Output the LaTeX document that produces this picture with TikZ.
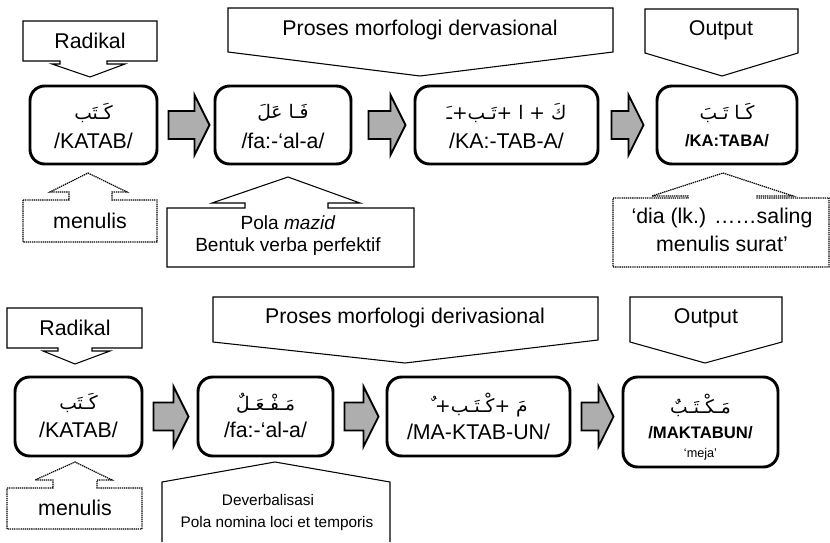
\documentclass[tikz,border=0pt]{standalone}
\usepackage{fontspec}
\setmainfont{Liberation Sans}
\newfontfamily\arabicfont[Script=Arabic]{DejaVu Sans}
\TeXXeTstate=1
\usetikzlibrary{calc}
\definecolor{arrowgray}{HTML}{AEAEAE}
\newcommand\blkarrow[4]{%
 \draw[blk] let \p1=(#1.east), \p2=(#2.west) in
  (\x1+#3,\y1+10.5pt) -- (\x2-#4-11.25pt,\y1+10.5pt) -- (\x2-#4-11.25pt,\y1+22.5pt)
  -- (\x2-#4,\y1) -- (\x2-#4-11.25pt,\y1-22.5pt) -- (\x2-#4-11.25pt,\y1-10.5pt)
  -- (\x1+#3,\y1-10.5pt) -- cycle;}
\begin{document}
\begin{tikzpicture}[x=0.75pt,y=-0.75pt,
  box/.style={draw, line width=2.2pt, rounded corners=11pt, inner sep=0pt},
  call/.style={draw, line width=0.8pt, line join=miter},
  dcall/.style={draw, line width=0.9pt, dash pattern=on 1pt off 0.6pt},
  blk/.style={draw, line width=1.4pt, fill=arrowgray, line join=miter},
  txt/.style={inner sep=0pt, font=\fontsize{16}{19}\selectfont},
  small/.style={inner sep=0pt, font=\fontsize{14.3}{17}\selectfont},
  tiny/.style={inner sep=0pt, font=\fontsize{11.5}{14}\selectfont},
  bld/.style={inner sep=0pt, font=\bfseries\fontsize{12.5}{15}\selectfont},
  ar/.style={inner sep=0pt, font=\arabicfont\fontsize{14}{17}\selectfont}]
\useasboundingbox (0,0) rectangle (830,542);

% ===== top row: boxes =====
\node[box, minimum width=95.25pt, minimum height=58.5pt] (b1) at (93.5,125) {};
\node[box, minimum width=102pt,   minimum height=58.5pt] (b2) at (283,125) {};
\node[box, minimum width=137.25pt,minimum height=58.5pt] (b3) at (506.5,125) {};
\node[box, minimum width=105pt,   minimum height=58.5pt] (b4) at (727,125) {};

\node[ar]  (b1a) at (93.5,113) {\beginR كَـتَب\endR};
\node[txt] (b1l) at (93.5,141) {/KATAB/};
\node[ar]  (b2a) at (283,113) {\beginR فَـا عَلَ\endR};
\node[txt] (b2l) at (283,141) {/fa:-‘al-a/};
\node[ar]  (b3a) at (506.5,113) {\beginR كَ + ا +تَـب+ـَ\endR};
\node[txt] (b3l) at (506.5,141) {/KA:-TAB-A/};
\node[ar]  (b4a) at (727,113) {\beginR كَـا تَـبَ\endR};
\node[bld] (b4l) at (727,141) {/KA:TABA/};

\blkarrow{b1}{b2}{7.5pt}{3pt}
\blkarrow{b2}{b3}{12pt}{6pt}
\blkarrow{b3}{b4}{9pt}{9pt}

% ===== top row: callouts =====
\draw[call] (23,21) -- (157,21) -- (157,61) -- (107,61) -- (107,64) -- (125,64) -- (90,77)
  -- (52,64) -- (60,64) -- (60,61) -- (23,61) -- cycle;
\node[txt] (rad1) at (90,41) {Radikal};

\draw[call] (228,8) -- (613,8) -- (613,52) -- (420,76) -- (228,52) -- cycle;
\node[txt] (pro1) at (420,30) {Proses morfologi dervasional};

\draw[call] (645,9) -- (798,9) -- (798,53) -- (722,76) -- (645,53) -- cycle;
\node[txt] (out1) at (721,30) {Output};

\draw[dcall] (23,200) -- (69,200) -- (69,192) -- (50,192) -- (88,173) -- (127,192) -- (112,192)
  -- (112,200) -- (157,200) -- (157,242) -- (23,242) -- cycle;
\node[txt] (men1) at (90,221) {menulis};

\draw[call] (167,208) -- (245,208) -- (245,203) -- (212,203) -- (288,177) -- (360,203) -- (328,203)
  -- (328,208) -- (414,208) -- (414,267) -- (167,267) -- cycle;
\node[small] (pol1) at (288,223) {Pola \textit{mazid}};
\node[small] (pol2) at (288,247) {Bentuk verba perfektif};

\draw[dcall] (613,198) -- (688,198) -- (688,196) -- (652,196) -- (723,173) -- (793,196) -- (757,196)
  -- (757,198) -- (829,198) -- (829,267) -- (613,267) -- cycle;
\node[txt] (dia1) at (722,218) {‘dia (lk.) ……saling};
\node[txt] (dia2) at (722,244) {menulis surat’};

% ===== bottom row: boxes =====
\node[box, minimum width=95.25pt, minimum height=59.25pt] (c1) at (78.5,416.5) {};
\node[box, minimum width=101.25pt,minimum height=59.25pt] (c2) at (265.5,416.5) {};
\node[box, minimum width=137.25pt,minimum height=59.25pt] (c3) at (478.5,416.5) {};
\node[box, minimum width=116.25pt,minimum height=67.5pt]  (c4) at (700.5,422) {};

\node[ar]  (c1a) at (78.5,403) {\beginR كَـتَب\endR};
\node[txt] (c1l) at (78.5,430) {/KATAB/};
\node[ar]  (c2a) at (265.5,403) {\beginR مَـفْـعَـلٌ\endR};
\node[txt] (c2l) at (265.5,430) {/fa:-‘al-a/};
\node[ar]  (c3a) at (478.5,405) {\beginR مَ +كْـتَـب+ ٌ\endR};
\node[txt] (c3l) at (478.5,432) {/MA-KTAB-UN/};
\node[ar]  (c4a) at (700.5,405) {\beginR مَـكْـتَـبٌ\endR};
\node[bld] (c4l) at (700.5,433) {/MAKTABUN/};
\node[inner sep=0pt, font=\fontsize{9.5}{11}\selectfont] (c4m) at (700.5,454) {‘meja’};

\blkarrow{c1}{c2}{7.5pt}{6pt}
\blkarrow{c2}{c3}{7.5pt}{5.25pt}
\blkarrow{c3}{c4}{7.5pt}{6pt}

% ===== bottom row: callouts =====
\draw[call] (7,308) -- (142,308) -- (142,348) -- (92,348) -- (92,351) -- (110,351) -- (75,364)
  -- (43,351) -- (58,351) -- (58,348) -- (7,348) -- cycle;
\node[txt] (rad2) at (75,328) {Radikal};

\draw[call] (213,297) -- (598,297) -- (598,340) -- (405,363) -- (213,342) -- cycle;
\node[txt] (pro2) at (405,318) {Proses morfologi derivasional};

\draw[call] (630,297) -- (782,297) -- (782,342) -- (705,363) -- (630,342) -- cycle;
\node[txt] (out2) at (706,318) {Output};

\draw[dcall] (7,488) -- (53,488) -- (53,480) -- (35,480) -- (75,462) -- (112,480) -- (97,480)
  -- (97,488) -- (142,488) -- (142,529) -- (7,529) -- cycle;
\node[txt] (men2) at (75,508) {menulis};

\draw[call] (162,542) -- (162,482) -- (275,462) -- (390,482) -- (390,542);
\node[tiny] (dev1) at (268,500) {Deverbalisasi};
\node[tiny] (dev2) at (277,524) {Pola nomina loci et temporis};
\end{tikzpicture}
\end{document}
